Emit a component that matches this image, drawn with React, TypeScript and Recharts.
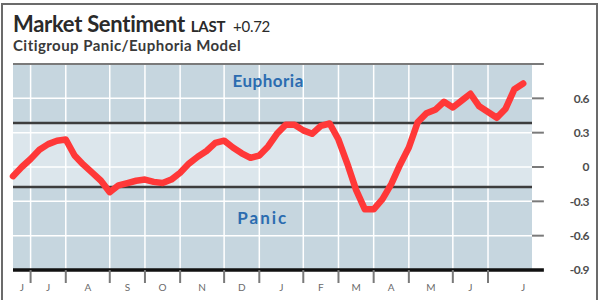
import {
  ComposedChart,
  Line,
  XAxis,
  YAxis,
  ReferenceLine,
  ReferenceArea,
  ReferenceDot,
} from "recharts";

// weekly readings of the panic/euphoria model, June to July
const weeks = Array.from({ length: 59 }, (_, i) => i);
const sentiment = [
  -0.08, 0.0, 0.07, 0.15, 0.2, 0.23, 0.24, 0.1, 0.02, -0.05,
  -0.12, -0.22, -0.16, -0.14, -0.12, -0.11, -0.13, -0.14, -0.11, -0.05,
  0.03, 0.09, 0.14, 0.21, 0.23, 0.17, 0.12, 0.08, 0.1, 0.18,
  0.29, 0.37, 0.37, 0.32, 0.29, 0.36, 0.38, 0.24, 0.03, -0.2,
  -0.37, -0.37, -0.28, -0.15, 0.02, 0.17, 0.39, 0.47, 0.5, 0.57,
  0.52, 0.58, 0.64, 0.53, 0.48, 0.43, 0.51, 0.68, 0.73,
];

const monthStarts = [2, 6, 11, 15, 19, 24, 28, 33, 37, 41, 45, 50, 54];
const monthLabels = ["J", "J", "A", "S", "O", "N", "D", "J", "F", "M", "A", "M", "J", "J"];
const labelWeeks = [1, 4, 8.5, 13, 17, 21.5, 26, 30.5, 35, 39, 43, 47.5, 52, 58];
const yTicks = [-0.9, -0.6, -0.3, 0, 0.3, 0.6, 0.9];
const gridValues = [-0.6, -0.3, 0, 0.3, 0.6];
const euphoriaLine = 0.384;
const panicLine = -0.175;

const xEnd = 59;
const tickReach = 60.35; // right-hand tick marks poke out past the plot

const data = weeks.map((w, i) => ({ week: w, value: sentiment[i] }));
const xTicks = [...monthStarts, ...labelWeeks].sort((a, b) => a - b);

function BottomTick(props: any) {
  const { x, y, payload } = props;
  const v = payload.value;
  const li = labelWeeks.indexOf(v);
  if (li >= 0) {
    return (
      <text x={x} y={y + 21} textAnchor="middle" fontSize={10} fill="#6a6a6a">
        {monthLabels[li]}
      </text>
    );
  }
  return <line x1={x} x2={x} y1={y} y2={y + 13} stroke="#7a7a7a" strokeWidth={2} />;
}

function RightTick(props: any) {
  const { x, y, payload } = props;
  const v = payload.value;
  if (v === 0.9) return <g />;
  return (
    <text
      x={x + 57}
      y={y}
      dy="0.36em"
      textAnchor="end"
      fontSize={12}
      fontWeight={700}
      fill="#4d4d4d"
      letterSpacing={-0.5}
    >
      {String(v)}
    </text>
  );
}

export default function App() {
  return (
    <div
      style={{
        position: "absolute",
        left: 0,
        top: 0,
        width: 600,
        height: 300,
        overflow: "hidden",
        background: "#fff",
        fontFamily: "Lato, sans-serif",
      }}
    >
      <div
        style={{
          position: "absolute",
          left: 1,
          top: 3,
          width: 597,
          height: 320,
          boxSizing: "border-box",
          border: "2px solid #6b6b6b",
        }}
      />
      <ComposedChart
        width={600}
        height={300}
        data={data}
        margin={{ top: 64, right: 0, left: 13, bottom: 0 }}
      >
        <XAxis
          type="number"
          dataKey="week"
          domain={[0, xEnd]}
          ticks={xTicks}
          interval={0}
          height={30}
          tickSize={0}
          tickMargin={0}
          axisLine={false}
          tickLine={false}
          tick={<BottomTick />}
        />
        <YAxis
          orientation="right"
          type="number"
          domain={[-0.9, 0.9]}
          ticks={yTicks}
          interval={0}
          width={68}
          tickSize={0}
          tickMargin={0}
          axisLine={false}
          tickLine={false}
          tick={<RightTick />}
        />
        <ReferenceArea y1={-0.9} y2={0.9} fill="#c6d6df" fillOpacity={1} stroke="none" />
        <ReferenceArea y1={panicLine} y2={euphoriaLine} fill="#dce6ec" fillOpacity={1} stroke="none" />
        {monthStarts.map((m) => (
          <ReferenceLine key={"v" + m} x={m} stroke="#ffffff" strokeWidth={1.5} />
        ))}
        {gridValues.map((g) => (
          <ReferenceLine key={"h" + g} y={g} stroke="#ffffff" strokeWidth={1.5} />
        ))}
        {gridValues.map((g) => (
          <ReferenceLine
            key={"t" + g}
            segment={[
              { x: xEnd, y: g },
              { x: tickReach, y: g },
            ]}
            ifOverflow="visible"
            stroke="#7a7a7a"
            strokeWidth={2}
          />
        ))}
        <ReferenceLine y={euphoriaLine} stroke="#3d3d3d" strokeWidth={2.5} />
        <ReferenceLine y={panicLine} stroke="#3d3d3d" strokeWidth={2.5} />
        <ReferenceLine
          segment={[
            { x: 0, y: 0.9 },
            { x: tickReach, y: 0.9 },
          ]}
          ifOverflow="visible"
          stroke="#7a7a7a"
          strokeWidth={2}
        />
        <ReferenceLine
          segment={[
            { x: 0, y: -0.9 },
            { x: tickReach, y: -0.9 },
          ]}
          ifOverflow="visible"
          stroke="#111"
          strokeWidth={3.5}
        />
        <ReferenceDot
          x={29}
          y={0.751}
          r={0}
          fill="none"
          stroke="none"
          label={{
            value: "Euphoria",
            position: "center",
            fill: "#2b6cb0",
            fontSize: 17,
            fontWeight: 700,
            letterSpacing: 0.5,
          }}
        />
        <ReferenceDot
          x={28.4}
          y={-0.446}
          r={0}
          fill="none"
          stroke="none"
          label={{
            value: "Panic",
            position: "center",
            fill: "#2b6cb0",
            fontSize: 17,
            fontWeight: 700,
            letterSpacing: 2,
          }}
        />
        <Line
          type="linear"
          dataKey="value"
          stroke="#ff3838"
          strokeWidth={6.5}
          strokeLinejoin="round"
          strokeLinecap="round"
          dot={false}
          activeDot={false}
          isAnimationActive={false}
        />
      </ComposedChart>
      <svg
        width={600}
        height={60}
        style={{ position: "absolute", left: 0, top: 0, fontFamily: "Lato, sans-serif" }}
      >
        <text x={13} y={32} fontSize={22} fontWeight={700} fill="#2a2a2a" letterSpacing={-0.3}>
          Market Sentiment
          <tspan dx={6} fontSize={15} fontWeight={700}>
            LAST
          </tspan>
          <tspan dx={8} fontSize={15} fontWeight={400}>
            +0.72
          </tspan>
        </text>
        <text x={13} y={51} fontSize={15} fontWeight={700} fill="#3a3a3a" letterSpacing={0.45}>
          Citigroup Panic/Euphoria Model
        </text>
      </svg>
    </div>
  );
}
